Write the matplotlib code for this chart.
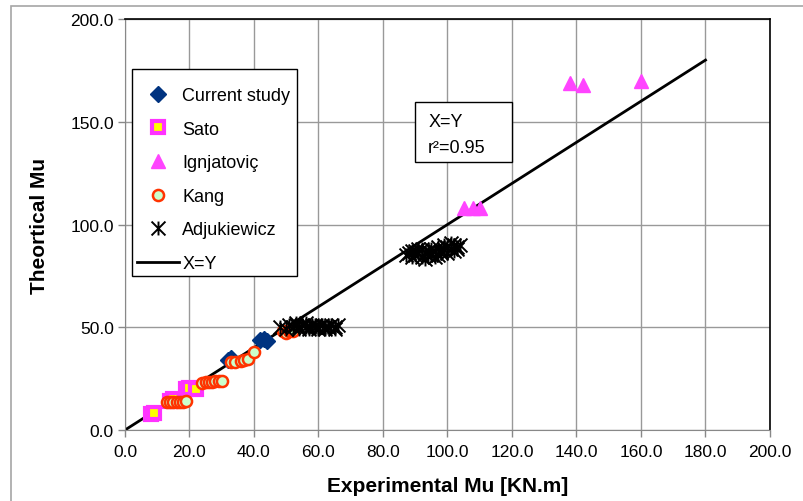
#!/usr/bin/python3

import matplotlib.pyplot as plt
from matplotlib.path import Path
from matplotlib.patches import Rectangle

plt.rcParams['font.family'] = ['Liberation Sans', 'DejaVu Sans']

# data
CURRENT_X = [32, 33, 42, 43, 44]
CURRENT_Y = [34, 35, 44, 44.5, 43.5]

SATO_X = [8, 9, 14, 15, 19, 20, 22]
SATO_Y = [8, 8.5, 14, 15, 20, 20.5, 20]

IGN_X = [105, 108, 110, 138, 142, 160]
IGN_Y = [108, 108, 108, 169, 168, 170]

KANG_X = [13, 14, 15, 16, 17, 18, 19, 24, 25, 26, 27, 28, 29, 30,
          33, 34, 36, 37, 38, 40, 49, 50, 51, 52]
KANG_Y = [13.5, 13.5, 13.5, 13.5, 13.5, 13.5, 14, 23, 23.5, 23.5, 23.5, 24, 24, 24,
          33, 33, 33.5, 34, 34.5, 38, 48, 47, 48, 48]

ADJ_X = [48, 50, 51, 52, 53, 54, 55, 56, 57, 58, 59, 60, 61, 62, 63, 64, 65, 66,
         54, 57, 60, 63, 53, 56, 59, 62, 65,
         87, 88, 89, 90, 90, 91, 92, 92, 93, 94, 94, 95, 95, 96, 97, 97, 98, 99,
         100, 100, 101, 102, 102, 103, 104, 96, 93, 89, 91, 95, 98, 99, 101, 103]
ADJ_Y = [50, 49, 51, 50, 51, 50, 51, 50, 49, 51, 50, 50, 51, 49, 50, 51, 50, 51,
         49, 50, 49, 50, 52, 52, 51, 50, 49,
         85, 86, 84, 85, 87, 86, 84, 88, 86, 85, 87, 88, 86, 87, 85, 89, 87, 88,
         86, 89, 88, 90, 87, 89, 90, 84, 83, 87, 88, 85, 86, 90, 91, 88]

LINE_X = [0, 180]
LINE_Y = [0, 180]

TICKS = [0, 20, 40, 60, 80, 100, 120, 140, 160, 180, 200]
YTICKS = [0, 50, 100, 150, 200]

# asterisk marker: X plus vertical bar
star = Path([(-1, -1), (1, 1), (-1, 1), (1, -1), (0, -1), (0, 1)],
            [Path.MOVETO, Path.LINETO, Path.MOVETO, Path.LINETO, Path.MOVETO, Path.LINETO])

W, H = 804, 502
fig = plt.figure(figsize=(W / 100, H / 100), dpi=100)
ax = fig.add_axes([125/W, 1 - 431/H, 645/W, 411/H])

# outer chart frame
fig.patches.append(Rectangle((11/W, -0.1), 1.2, 1 - 7/H + 0.1, transform=fig.transFigure,
                             fill=False, edgecolor='#a6a6a6', lw=1.2))

ax.plot(CURRENT_X, CURRENT_Y, 'D', color='#003380', ms=8.5, mec='#003380', label='Current study', zorder=3)
ax.plot(SATO_X, SATO_Y, 's', mfc='#FFFF00', mec='#FF33FF', mew=3, ms=9, label='Sato', zorder=3)
ax.plot(IGN_X, IGN_Y, '^', color='#FF44FF', ms=10, label='Ignjatoviç', zorder=3)
ax.plot(KANG_X, KANG_Y, 'o', mfc='#CCFFCC', mec='#FF3300', mew=1.8, ms=8, label='Kang', zorder=3)
ax.plot(ADJ_X, ADJ_Y, linestyle='none', marker=star, color='black', ms=10, mew=1.4,
        label='Adjukiewicz', zorder=4)
ax.plot(LINE_X, LINE_Y, color='black', lw=2, label='X=Y', zorder=2)

ax.set_xlim(0, 200)
ax.set_ylim(0, 200)
ax.set_xticks(TICKS)
ax.set_xticklabels([f"{t:.1f}" for t in TICKS])
ax.set_yticks(YTICKS)
ax.set_yticklabels([f"{t:.1f}" for t in YTICKS])
ax.tick_params(labelsize=12.5, length=5, width=1, color='#888888')
ax.tick_params(axis='y', pad=3)
ax.tick_params(axis='x', pad=5)
ax.grid(True, color='#999999', lw=1)
ax.set_axisbelow(True)
for s in ['left', 'bottom']:
    ax.spines[s].set_color('#888888')
for s in ['top', 'right']:
    ax.spines[s].set_color('black')
    ax.spines[s].set_linewidth(1.2)

ax.set_xlabel('Experimental Mu [KN.m]', fontsize=15, fontweight='bold', labelpad=12)
ax.set_ylabel('Theortical Mu', fontsize=15, fontweight='bold', labelpad=15)

# legend frame drawn by hand, entries without frame
ax.add_patch(Rectangle(((132 - 125) / 645, (431 - 277) / 411), 165 / 645, 207 / 411,
                       transform=ax.transAxes, fc='white', ec='black', lw=1, zorder=5))
leg = ax.legend(loc='upper left', bbox_to_anchor=((137 - 125) / 645, (431 - 88) / 411),
                fontsize=13, frameon=False, labelspacing=0.92, handlelength=2.3,
                borderpad=0, handletextpad=0.2, borderaxespad=0)
leg.set_zorder(6)

# X=Y text box
ax.add_patch(Rectangle((90, 130.4), 30, 29.2, fc='white', ec='black', lw=1, zorder=5))
ax.text(94, 150, 'X=Y', fontsize=13, va='center', ha='left', zorder=6)
ax.text(94, 137.7, 'r²=0.95', fontsize=13, va='center', ha='left', zorder=6)

plt.savefig('out.png', dpi=100)
